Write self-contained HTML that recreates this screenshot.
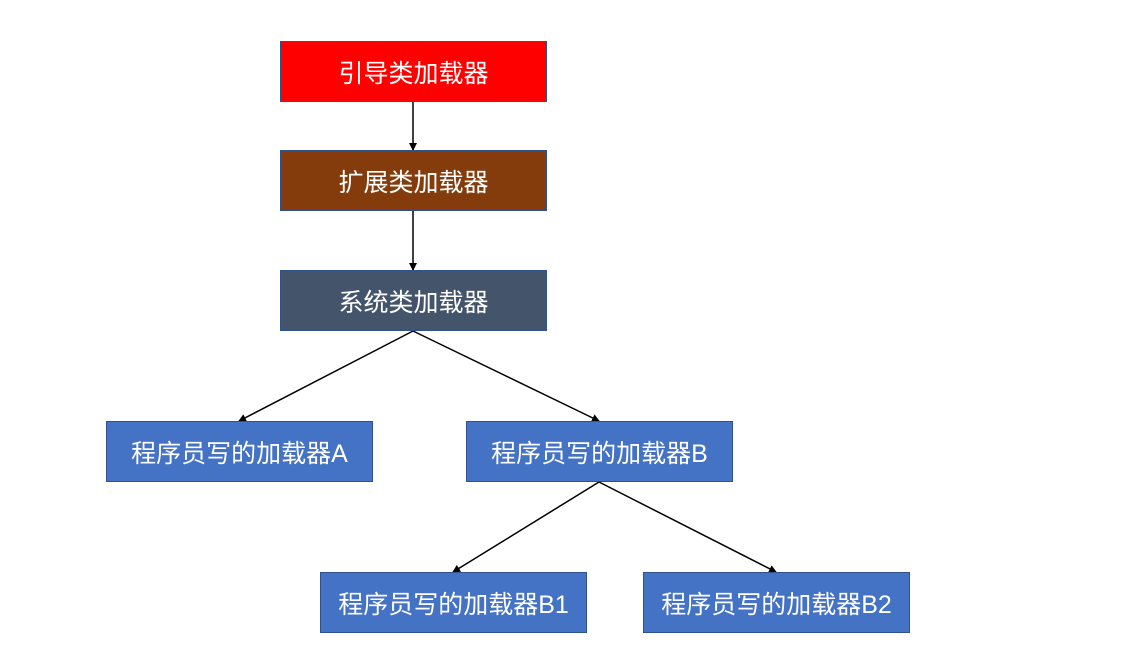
<!DOCTYPE html>
<html><head><meta charset="utf-8"><style>
body{margin:0;width:1124px;height:649px;background:#fff;position:relative;overflow:hidden;font-family:"Liberation Sans","Noto Sans CJK SC",sans-serif}
.b{position:absolute;width:265px;height:59px;border:1px solid #2f528f;color:#fff;font-size:25px;display:flex;align-items:center;justify-content:center;box-sizing:content-box}
svg{position:absolute;left:0;top:0}
</style></head><body>
<svg width="1124" height="649">
<defs><marker id="a" markerWidth="8" markerHeight="8" refX="7" refY="4" orient="auto" markerUnits="userSpaceOnUse"><path d="M0,0L8,4L0,8z" fill="#000"/></marker></defs>
<g stroke="#000" stroke-width="1.5" fill="none" marker-end="url(#a)">
<line x1="413" y1="102" x2="413" y2="150"/>
<line x1="413" y1="211" x2="413" y2="270"/>
<line x1="413" y1="331" x2="239" y2="421"/>
<line x1="413" y1="331" x2="599" y2="421"/>
<line x1="599" y1="482" x2="453" y2="572"/>
<line x1="599" y1="482" x2="776" y2="572"/>
</g></svg>
<div class="b" style="left:280px;top:41px;background:#ff0000">引导类加载器</div>
<div class="b" style="left:280px;top:150px;background:#843c0c">扩展类加载器</div>
<div class="b" style="left:280px;top:270px;background:#44546a">系统类加载器</div>
<div class="b" style="left:106px;top:421px;background:#4472c4">程序员写的加载器A</div>
<div class="b" style="left:466px;top:421px;background:#4472c4">程序员写的加载器B</div>
<div class="b" style="left:320px;top:572px;background:#4472c4">程序员写的加载器B1</div>
<div class="b" style="left:643px;top:572px;background:#4472c4">程序员写的加载器B2</div>
</body></html>
